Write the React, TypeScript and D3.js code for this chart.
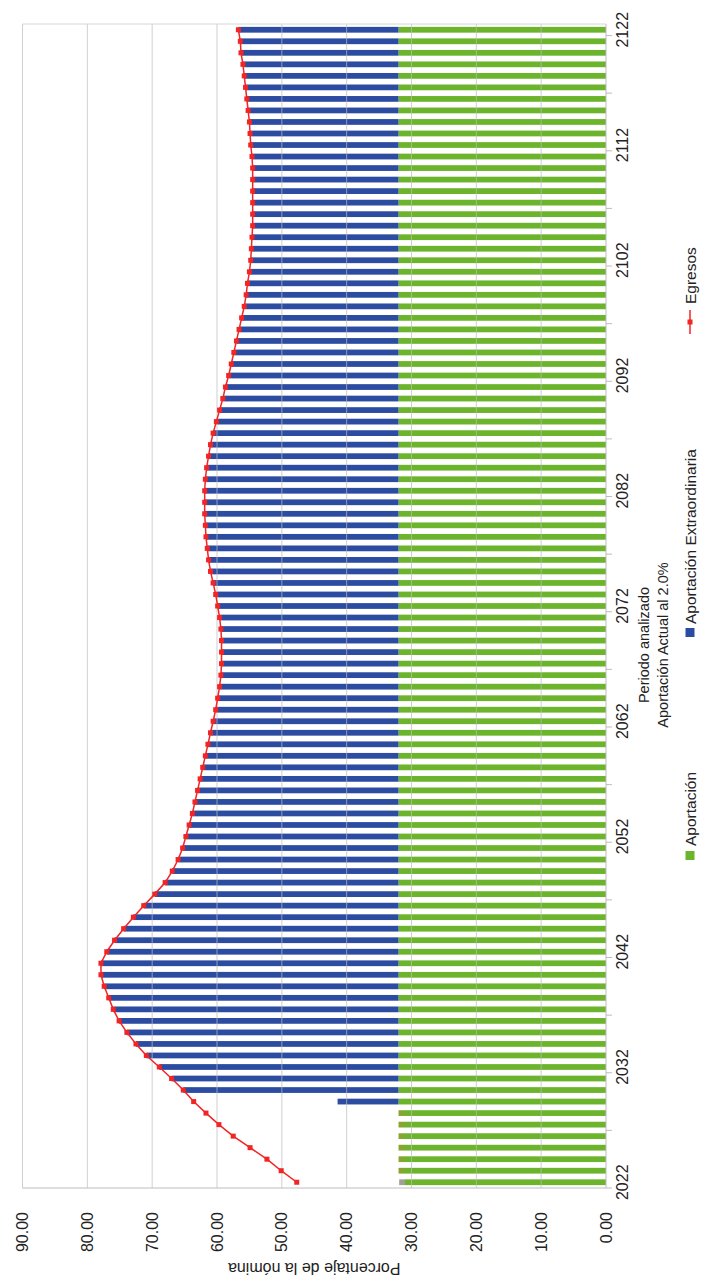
import React from "react";
import * as d3 from "d3";

const years: string[] = [
  "2022","2023","2024","2025","2026","2027","2028","2029","2030","2031",
  "2032","2033","2034","2035","2036","2037","2038","2039","2040","2041",
  "2042","2043","2044","2045","2046","2047","2048","2049","2050","2051",
  "2052","2053","2054","2055","2056","2057","2058","2059","2060","2061",
  "2062","2063","2064","2065","2066","2067","2068","2069","2070","2071",
  "2072","2073","2074","2075","2076","2077","2078","2079","2080","2081",
  "2082","2083","2084","2085","2086","2087","2088","2089","2090","2091",
  "2092","2093","2094","2095","2096","2097","2098","2099","2100","2101",
  "2102","2103","2104","2105","2106","2107","2108","2109","2110","2111",
  "2112","2113","2114","2115","2116","2117","2118","2119","2120","2121",
  "2122"
];

const yearTicks: string[] = ["2022","2032","2042","2052","2062","2072","2082","2092","2102","2112","2122"];
const valueTicks: number[] = [0, 10, 20, 30, 40, 50, 60, 70, 80, 90];

// Aportación (green)
const aportacion: number[] = [
  31.0,31.0,31.0,31.0,31.0,31.0,31.0,32.0,32.0,32.0,
  32.0,32.0,32.0,32.0,32.0,32.0,32.0,32.0,32.0,32.0,
  32.0,32.0,32.0,32.0,32.0,32.0,32.0,32.0,32.0,32.0,
  32.0,32.0,32.0,32.0,32.0,32.0,32.0,32.0,32.0,32.0,
  32.0,32.0,32.0,32.0,32.0,32.0,32.0,32.0,32.0,32.0,
  32.0,32.0,32.0,32.0,32.0,32.0,32.0,32.0,32.0,32.0,
  32.0,32.0,32.0,32.0,32.0,32.0,32.0,32.0,32.0,32.0,
  32.0,32.0,32.0,32.0,32.0,32.0,32.0,32.0,32.0,32.0,
  32.0,32.0,32.0,32.0,32.0,32.0,32.0,32.0,32.0,32.0,
  32.0,32.0,32.0,32.0,32.0,32.0,32.0,32.0,32.0,32.0,
  32.0
];

// small extra segment on the first bars (unlabelled)
const extra: number[] = [
  0.9,1.0,1.0,1.0,1.0,1.0,1.0,0,0,0,
  0,0,0,0,0,0,0,0,0,0,0,0,0,0,0,0,0,0,0,0,
  0,0,0,0,0,0,0,0,0,0,0,0,0,0,0,0,0,0,0,0,
  0,0,0,0,0,0,0,0,0,0,0,0,0,0,0,0,0,0,0,0,
  0,0,0,0,0,0,0,0,0,0,0,0,0,0,0,0,0,0,0,0,
  0,0,0,0,0,0,0,0,0,0,0
];

// Aportación Extraordinaria (blue)
const extraordinaria: number[] = [
  0,0,0,0,0,0,0,9.4,33.2,35.0,
  36.9,38.9,40.5,41.9,43.1,44.0,44.7,45.4,45.9,45.9,
  45.0,43.8,42.4,40.9,39.3,37.6,36.0,34.9,34.0,33.3,
  32.8,32.3,31.8,31.4,31.0,30.6,30.2,29.8,29.4,29.0,
  28.6,28.2,27.9,27.6,27.4,27.3,27.3,27.3,27.4,27.6,
  27.9,28.2,28.6,29.0,29.3,29.5,29.7,29.8,29.9,29.9,
  29.9,29.8,29.6,29.3,29.0,28.6,28.1,27.6,27.1,26.7,
  26.2,25.8,25.4,25.0,24.6,24.2,23.8,23.5,23.3,23.0,
  22.8,22.7,22.6,22.5,22.5,22.5,22.5,22.5,22.5,22.6,
  22.8,22.9,23.0,23.2,23.4,23.6,23.8,24.0,24.3,24.4,
  24.7
];

// Egresos (red line)
const egresos: number[] = [
  47.7,50.1,52.3,54.9,57.5,59.7,61.7,63.6,65.2,67.0,
  68.9,70.9,72.5,73.9,75.1,76.0,76.7,77.4,77.9,77.9,
  77.0,75.8,74.4,72.9,71.3,69.6,68.0,66.9,66.0,65.3,
  64.8,64.3,63.8,63.4,63.0,62.6,62.2,61.8,61.4,61.0,
  60.6,60.2,59.9,59.6,59.4,59.3,59.3,59.3,59.4,59.6,
  59.9,60.2,60.6,61.0,61.3,61.5,61.7,61.8,61.9,61.9,
  61.9,61.8,61.6,61.3,61.0,60.6,60.1,59.6,59.1,58.7,
  58.2,57.8,57.4,57.0,56.6,56.2,55.8,55.5,55.3,55.0,
  54.8,54.7,54.6,54.5,54.5,54.5,54.5,54.5,54.5,54.6,
  54.8,54.9,55.0,55.2,55.4,55.6,55.8,56.0,56.3,56.4,
  56.7
];

const W = 722;
const H = 1286;
const FONT = "'Liberation Sans', Arial, sans-serif";
const GREEN = "#6cb42c";
const BLUE = "#2c4ca2";
const RED = "#f22424";
const GRID = "#bdbdbd";

export default function App() {
  // inner (unrotated) frame: width H, height W
  const x = d3.scaleBand<string>().domain(years).range([98, 1262]).paddingInner(0.5).paddingOuter(0.25);
  const y = d3.scaleLinear().domain([0, 90]).range([606, 22.5]);
  const bw = x.bandwidth();
  const step = x.step();
  const cx = (yr: string) => (x(yr) as number) + bw / 2;

  const line = d3
    .line<number>()
    .x((_, i) => cx(years[i]))
    .y((d) => y(d));

  const tickIdx = d3.range(0, years.length + 1, 5);

  return (
    <div style={{ position: "absolute", left: 0, top: 0 }}>
      <svg width={W} height={H} style={{ display: "block", background: "#fff" }} fontFamily={FONT}>
        <g transform={`translate(0,${H}) rotate(-90)`}>
          {/* bars */}
          {years.map((yr, i) => {
            const g0 = y(0);
            const g1 = y(aportacion[i]);
            const e1 = y(aportacion[i] + extra[i]);
            const b1 = y(aportacion[i] + extra[i] + extraordinaria[i]);
            return (
              <g key={yr}>
                <rect x={x(yr)} y={g1} width={bw} height={g0 - g1} fill={GREEN} />
                {extra[i] > 0 && (
                  <rect x={x(yr)} y={e1} width={bw} height={g1 - e1} fill={i === 0 ? "#a0a098" : "#86a630"} />
                )}
                {extraordinaria[i] > 0 && (
                  <rect x={x(yr)} y={b1} width={bw} height={e1 - b1} fill={BLUE} />
                )}
              </g>
            );
          })}
          {/* grid lines over bars */}
          {valueTicks.map((v) => (
            <line key={v} x1={98} x2={1262} y1={y(v)} y2={y(v)} stroke={GRID} strokeWidth={1} opacity={v === 0 ? 1 : 0.7} />
          ))}
          {/* plot border edges */}
          <line x1={98} x2={98} y1={y(90)} y2={y(0)} stroke={GRID} strokeWidth={1.2} />
          <line x1={1262} x2={1262} y1={y(90)} y2={y(0)} stroke="#d6d6d6" strokeWidth={1} />
          {/* category ticks */}
          {tickIdx.map((k) => {
            const px = 98 + step * k;
            return <line key={k} x1={px} x2={px} y1={y(0)} y2={y(0) + 6} stroke={GRID} strokeWidth={1} />;
          })}
          {/* Egresos line */}
          <path d={line(egresos) || ""} fill="none" stroke={RED} strokeWidth={1.5} />
          {egresos.map((v, i) => (
            <rect key={i} x={cx(years[i]) - 2.5} y={y(v) - 2.5} width={5} height={5} fill={RED} />
          ))}
          {/* year labels */}
          {yearTicks.map((yr) => (
            <text key={yr} x={cx(yr)} y={622} textAnchor="middle" dominantBaseline="central" fontSize={16} fill="#222">
              {yr}
            </text>
          ))}
          {/* value labels */}
          {valueTicks.map((v) => (
            <text key={v} x={74} y={y(v)} textAnchor="end" dominantBaseline="central" fontSize={16} fill="#222">
              {v.toFixed(2)}
            </text>
          ))}
          {/* axis title */}
          <text transform={`translate(18,${(y(0) + y(90)) / 2}) rotate(-90)`} textAnchor="middle" dominantBaseline="central" fontSize={16} fill="#222">
            Porcentaje de la nómina
          </text>
          {/* x axis titles */}
          <text x={641} y={644} textAnchor="middle" dominantBaseline="central" fontSize={14.5} fill="#222">
            Periodo analizado
          </text>
          <text x={641} y={663} textAnchor="middle" dominantBaseline="central" fontSize={14.5} fill="#222">
            Aportación Actual al 2.0%
          </text>
          {/* legend */}
          <rect x={426} y={685.5} width={9} height={9} fill={GREEN} />
          <text x={440} y={690} dominantBaseline="central" fontSize={15.5} fill="#222">Aportación</text>
          <rect x={649} y={685.5} width={9} height={9} fill={BLUE} />
          <text x={662} y={690} dominantBaseline="central" fontSize={15.5} fill="#222">Aportación Extraordinaria</text>
          <line x1={952} x2={976} y1={690} y2={690} stroke={RED} strokeWidth={1.5} />
          <rect x={961.5} y={687.5} width={5} height={5} fill={RED} />
          <text x={982} y={690} dominantBaseline="central" fontSize={15.5} fill="#222">Egresos</text>
        </g>
      </svg>
    </div>
  );
}
